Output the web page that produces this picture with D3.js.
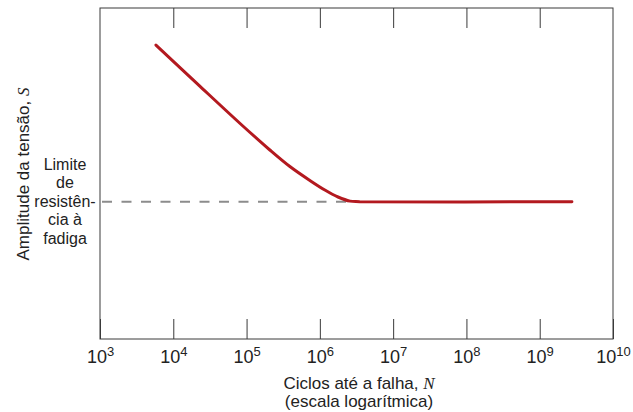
<!DOCTYPE html>
<html>
<head>
<meta charset="utf-8">
<script src="https://cdn.jsdelivr.net/npm/d3@7"></script>
<style>
  body { margin: 0; background: #fff; }
  svg { display: block; font-family: "Liberation Sans", Arial, sans-serif; }
</style>
</head>
<body>
<svg id="chart" width="633" height="412"></svg>
<script>
// S-N curve (stress in arbitrary units, 0-100)
const cycles = [5.8e3, 2.3e4, 8.9e4, 2.08e5, 3.9e5, 7.3e5, 1.17e6, 1.77e6, 2.58e6, 3.5e6, 2.75e9];
const stress = [88.8, 76.4, 64.35, 57.1, 52.1, 47.9, 45.0, 42.9, 41.65, 41.5, 41.5];
const fatigueLimit = 41.5;
const limitEnd = 2.35e6;
const decades = [1e3, 1e4, 1e5, 1e6, 1e7, 1e8, 1e9, 1e10];
const limitLabel = ["Limite", "de", "resistên-", "cia à", "fadiga"];

const svg = d3.select("#chart");
const margin = { top: 8, right: 20, bottom: 73, left: 100 };
const width = 633, height = 412;

const x = d3.scaleLog()
    .domain([1e3, 1e10])
    .range([margin.left, width - margin.right]);

const y = d3.scaleLinear()
    .domain([0, 100])
    .range([height - margin.bottom, margin.top]);

const axisColor = "#3a3a3a";

// bottom axis, ticks pointing inward
const gx = svg.append("g")
    .attr("transform", `translate(0,${y(0)})`)
    .call(d3.axisBottom(x).tickValues(decades).tickSizeInner(-20).tickSizeOuter(0).tickPadding(24).tickFormat(""));
gx.select(".domain").remove();
gx.selectAll(".tick line").attr("stroke", axisColor);
gx.selectAll(".tick text")
    .attr("fill", "#222")
    .attr("font-size", 18)
    .attr("dy", 0)
    .each(function (d) {
        const t = d3.select(this);
        t.append("tspan").text("10");
        t.append("tspan")
            .attr("font-size", 13)
            .attr("dy", -7)
            .text(Math.round(Math.log10(d)));
    });

// top ticks
const gt = svg.append("g")
    .attr("transform", `translate(0,${y(100)})`)
    .call(d3.axisTop(x).tickValues(decades.slice(1, -1)).tickSizeInner(-20).tickSizeOuter(0).tickFormat(""));
gt.select(".domain").remove();
gt.selectAll(".tick line").attr("stroke", axisColor);

// frame
svg.append("rect")
    .attr("x", x(1e3))
    .attr("y", y(100))
    .attr("width", x(1e10) - x(1e3))
    .attr("height", y(0) - y(100))
    .attr("fill", "none")
    .attr("stroke", axisColor)
    .attr("stroke-width", 1);

// dashed fatigue limit line
svg.append("line")
    .attr("x1", x(1e3) + 2)
    .attr("x2", x(limitEnd))
    .attr("y1", y(fatigueLimit))
    .attr("y2", y(fatigueLimit))
    .attr("stroke", "#8c8c8c")
    .attr("stroke-width", 2)
    .attr("stroke-dasharray", "10,9.5");

// S-N curve
const pts = cycles.map((c, i) => [c, stress[i]]);
svg.append("path")
    .datum(pts)
    .attr("fill", "none")
    .attr("stroke", "#b3191f")
    .attr("stroke-width", 3)
    .attr("stroke-linecap", "round")
    .attr("d", d3.line().x(d => x(d[0])).y(d => y(d[1])).curve(d3.curveCatmullRom.alpha(0.5)));

// x axis title
const xt = svg.append("text")
    .attr("x", 359)
    .attr("y", 389)
    .attr("text-anchor", "middle")
    .attr("font-size", 17)
    .attr("fill", "#222");
xt.append("tspan").text("Ciclos até a falha, ");
xt.append("tspan")
    .attr("font-family", "'Liberation Serif', serif")
    .attr("font-style", "italic")
    .text("N");
svg.append("text")
    .attr("x", 359)
    .attr("y", 407)
    .attr("text-anchor", "middle")
    .attr("font-size", 17)
    .attr("fill", "#222")
    .text("(escala logarítmica)");

// y axis title
const yt = svg.append("text")
    .attr("transform", "translate(29,174) rotate(-90)")
    .attr("text-anchor", "middle")
    .attr("font-size", 17)
    .attr("fill", "#222");
yt.append("tspan").text("Amplitude da tensão, ");
yt.append("tspan")
    .attr("font-family", "'Liberation Serif', serif")
    .attr("font-style", "italic")
    .text("S");

// fatigue limit label
svg.append("g")
    .selectAll("text")
    .data(limitLabel)
    .join("text")
    .attr("x", 65)
    .attr("y", (d, i) => y(fatigueLimit) - 32 + i * 18.5)
    .attr("text-anchor", "middle")
    .attr("font-size", 16)
    .attr("fill", "#222")
    .text(d => d);
</script>
</body>
</html>
